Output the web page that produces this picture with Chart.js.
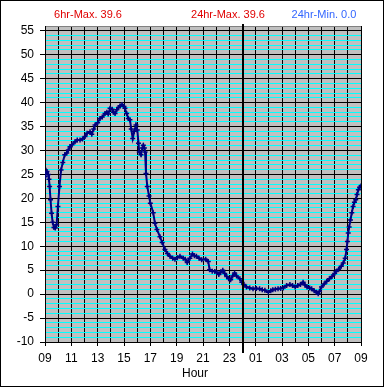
<!DOCTYPE html>
<html>
<head>
<meta charset="utf-8">
<script src="https://cdn.jsdelivr.net/npm/chart.js@4.4.1/dist/chart.umd.min.js"></script>
<style>
  body { margin: 0; background: #fff; }
  canvas { display: block; }
</style>
</head>
<body>
<canvas id="temp-chart" width="385" height="388"></canvas>
<script>
// hours since 09:00, temperature
const hours = [0.00,0.08,0.15,0.25,0.30,0.35,0.42,0.50,0.58,0.68,0.78,0.88,0.98,1.10,1.22,1.35,1.50,1.65,1.77,1.90,
  2.05,2.28,2.45,2.66,2.85,3.04,3.20,3.42,3.55,3.70,3.80,4.00,4.18,4.35,4.56,4.70,4.80,4.94,5.10,5.20,
  5.32,5.45,5.58,5.70,5.85,6.00,6.07,6.20,6.33,6.45,6.55,6.66,6.78,6.91,7.01,7.10,7.16,7.29,7.40,7.47,
  7.55,7.60,7.67,7.77,7.90,8.00,8.22,8.35,8.50,8.73,8.90,9.11,9.30,9.49,9.70,9.87,10.05,10.25,10.50,10.65,
  10.80,11.00,11.20,11.35,11.50,11.70,11.90,12.20,12.40,12.50,12.70,12.90,13.05,13.20,13.35,13.50,13.65,13.80,13.95,14.10,
  14.25,14.40,14.55,14.80,14.95,15.10,15.30,15.55,15.80,16.05,16.30,16.50,16.70,16.96,17.15,17.30,17.50,17.70,17.90,18.10,
  18.35,18.60,18.80,19.00,19.20,19.40,19.60,19.75,19.90,20.10,20.25,20.45,20.60,20.75,20.85,21.00,21.20,21.40,21.60,21.80,
  22.00,22.10,22.30,22.50,22.65,22.80,22.90,22.97,23.03,23.10,23.20,23.30,23.40,23.50,23.60,23.70,23.80,23.90,24.00];
const temps = [24.5,25.3,25.6,25.0,24.0,22.5,19.7,16.9,15.0,13.9,13.8,14.5,18.3,22.5,25.9,27.5,29.1,29.5,30.1,30.8,
  31.2,31.8,32.2,32.2,32.4,32.9,33.6,33.9,33.4,34.5,35.3,35.8,36.7,37.0,37.7,38.0,37.6,38.8,38.6,38.0,
  37.7,38.5,39.0,39.3,39.6,39.2,38.8,37.7,36.7,36.4,34.5,32.5,34.0,35.3,34.3,31.5,29.7,29.1,30.5,31.1,
  30.5,29.7,25.2,22.5,20.5,19.0,17.0,14.8,13.5,12.0,10.8,9.3,8.5,7.9,7.5,7.3,7.6,7.9,7.5,7.3,
  6.6,7.5,8.4,8.0,7.9,7.5,7.2,7.3,6.8,5.1,4.8,4.75,4.5,4.1,4.6,5.0,4.3,3.7,3.2,3.0,
  3.8,4.4,3.8,3.2,2.5,2.0,1.5,1.3,1.1,1.2,1.1,0.9,0.8,0.4,0.7,0.9,1.0,1.1,1.2,1.3,
  1.8,2.0,1.8,1.5,1.8,2.0,2.5,1.9,1.5,1.3,1.1,0.7,0.4,0.1,0.6,1.5,2.1,2.7,3.2,3.7,
  4.3,4.75,5.2,5.8,6.5,7.5,9.3,11.0,12.75,14.0,15.5,17.0,18.3,19.2,19.7,20.8,21.8,22.3,22.6];

const startHour = 9;
const midnightHour = 15;   // 00:00 counted from 09:00
const xMin = 0, xMax = 24;
const yMin = -10, yMax = 56;

const summaryLabels = ['6hr-Max.', '24hr-Max.', '24hr-Min.'];
const summaryValues = [39.6, 39.6, 0.0];
const summaryColors = ['#e00000', '#e00000', '#3366ff'];
const summaryX = [88, 228, 324];

const points = hours.map((h, i) => ({ x: h, y: temps[i] }));

// one tick per unit on both axes (hour / degree)
const xTicks = [];
for (let v = xMin; v <= xMax; v++) xTicks.push({ value: v });
const yTicks = [];
for (let v = yMin; v <= yMax; v++) yTicks.push({ value: v });

const frame = {
  id: 'frame',
  beforeDraw(chart) {
    const { ctx, chartArea: a } = chart;
    ctx.save();
    ctx.fillStyle = '#c0c0c0';
    ctx.fillRect(a.left, a.top, a.right - a.left, a.bottom - a.top);
    ctx.restore();
  },
  afterDatasetsDraw(chart) {
    const { ctx, chartArea: a } = chart;
    const x = Math.round(chart.scales.x.getPixelForValue(midnightHour));
    ctx.save();
    ctx.strokeStyle = '#000';
    ctx.lineWidth = 2;
    ctx.beginPath();
    ctx.moveTo(x, a.top - 2);
    ctx.lineTo(x, a.bottom + 11);
    ctx.stroke();
    ctx.restore();
  },
  afterDraw(chart) {
    const ctx = chart.ctx;
    ctx.save();
    ctx.font = '11px "Liberation Sans", Arial, sans-serif';
    ctx.textAlign = 'center';
    ctx.textBaseline = 'middle';
    summaryLabels.forEach((t, i) => {
      ctx.fillStyle = summaryColors[i];
      ctx.fillText(t + ' ' + summaryValues[i].toFixed(1), summaryX[i], 15);
    });
    ctx.fillStyle = '#000';
    ctx.font = '12px "Liberation Sans", Arial, sans-serif';
    ctx.fillText('Hour', 195, 374);
    ctx.strokeStyle = '#000';
    ctx.lineWidth = 1;
    ctx.strokeRect(0.5, 0.5, 383, 386);
    ctx.restore();
  }
};

new Chart(document.getElementById('temp-chart'), {
  type: 'line',
  data: {
    datasets: [{
      data: points,
      borderColor: '#000080',
      borderWidth: 2,
      pointStyle: 'cross',
      pointRadius: 2.5,
      pointBorderColor: '#000080',
      pointBorderWidth: 1.5,
      fill: false,
      tension: 0
    }]
  },
  options: {
    responsive: false,
    animation: false,
    layout: { padding: { left: 0, right: 24, top: 26, bottom: 0 } },
    plugins: { legend: { display: false }, tooltip: { enabled: false } },
    scales: {
      x: {
        type: 'linear',
        min: xMin,
        max: xMax,
        afterBuildTicks(s) { s.ticks = xTicks.map(t => ({ value: t.value })); },
        afterFit(s) { s.height = 46; },
        border: { color: '#000' },
        grid: {
          color: '#000',
          tickLength: 4,
          tickColor: c => (c.tick && c.tick.value % 2 === 0) ? '#000' : 'rgba(0,0,0,0)'
        },
        ticks: {
          autoSkip: false,
          maxRotation: 0,
          padding: 5,
          color: '#000',
          font: { family: '"Liberation Sans", Arial, sans-serif', size: 12 },
          callback: v => v % 2 === 0 ? String((startHour + v) % 24).padStart(2, '0') : ''
        }
      },
      y: {
        min: yMin,
        max: yMax,
        afterBuildTicks(s) { s.ticks = yTicks.map(t => ({ value: t.value })); },
        afterFit(s) { s.width = 45; },
        border: { color: '#000' },
        grid: {
          color: c => {
            const v = c.tick ? c.tick.value : 0;
            if (v === yMax) return '#808080';
            return v % 5 === 0 ? '#000' : '#00ffff';
          },
          tickLength: 5,
          tickColor: c => (c.tick && c.tick.value % 5 === 0 && c.tick.value !== yMax) ? '#000' : 'rgba(0,0,0,0)'
        },
        ticks: {
          autoSkip: false,
          padding: 6,
          color: '#000',
          font: { family: '"Liberation Sans", Arial, sans-serif', size: 12 },
          callback: v => v % 5 === 0 && v !== yMax ? v : ''
        }
      }
    }
  },
  plugins: [frame]
});
</script>
</body>
</html>
